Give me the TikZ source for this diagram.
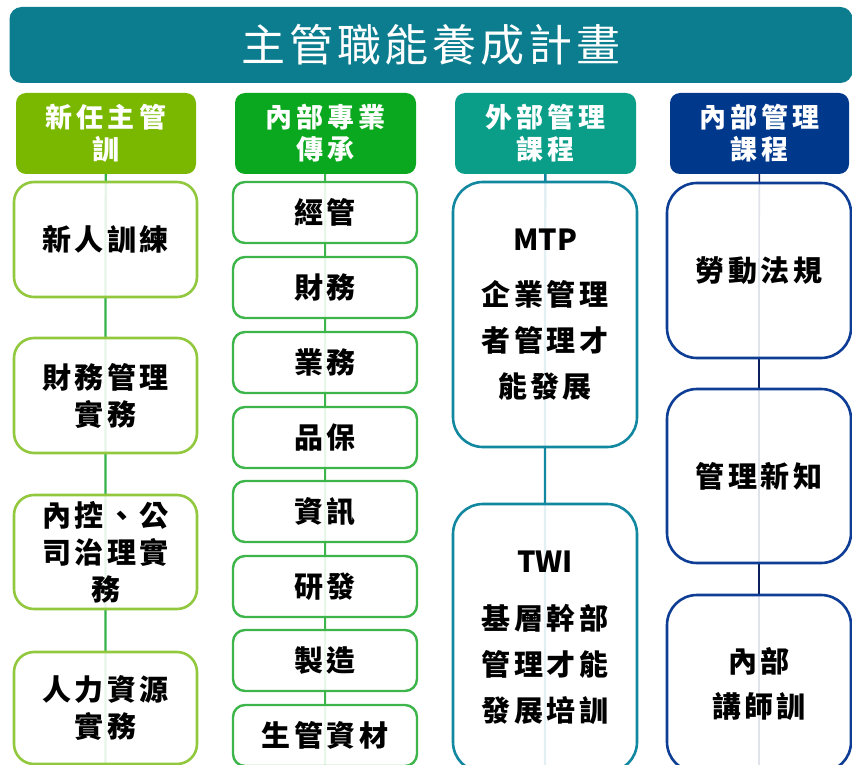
\documentclass[tikz,border=0pt]{standalone}
\usepackage{fontspec}
\setmainfont{Noto Sans CJK TC}
\newfontfamily\titlefont[LetterSpace=9]{Noto Sans CJK TC}
\newfontfamily\hdrfont[LetterSpace=15]{Noto Sans CJK TC}
\newfontfamily\bodyfont[LetterSpace=12]{Noto Sans CJK TC}
\newfontfamily\latinfont{Noto Sans CJK TC}
\usetikzlibrary{backgrounds}
\definecolor{titlec}{HTML}{0B7D8E}
\definecolor{hA}{HTML}{7AB800}
\definecolor{hB}{HTML}{0AA81E}
\definecolor{hC}{HTML}{0A9E88}
\definecolor{hD}{HTML}{00388C}
\definecolor{bA}{HTML}{92C83E}
\definecolor{lA}{HTML}{36B24A}
\definecolor{bB}{HTML}{3DB54A}
\definecolor{bC}{HTML}{1287A0}
\definecolor{bD}{HTML}{0D3D94}
\definecolor{lD}{HTML}{0B1F5C}
\begin{document}
\begin{tikzpicture}[x=1pt,y=-1pt,
  hdr/.style={fill=#1, rounded corners=10pt, minimum width=180pt, minimum height=81pt,
    inner sep=0pt, text=white, align=center, font=\hdrfont\bfseries\fontsize{27}{32}\selectfont},
  cbox/.style={fill=white, fill opacity=0.88, text opacity=1, draw=#1, line width=2.6pt,
    inner sep=0pt, align=center, text=black, minimum width=184pt,
    font=\bodyfont\bfseries\fontsize{29}{37}\selectfont},
  boxA/.style={cbox=bA, rounded corners=20pt, minimum width=183pt},
  boxB/.style={cbox=bB, rounded corners=12pt, minimum height=61pt, line width=2.4pt},
  boxC/.style={cbox=bC, rounded corners=30pt, font=\bodyfont\bfseries\fontsize{29}{46}\selectfont},
  boxD/.style={cbox=bD, rounded corners=30pt, font=\bodyfont\bfseries\fontsize{29}{45}\selectfont},
  conn/.style={draw=#1, line width=2.4pt}
]
\useasboundingbox (0,0) rectangle (852,765);
% title
\node[fill=titlec, rounded corners=12pt, minimum width=843pt, minimum height=76pt, inner sep=0pt,
  text=white, font=\titlefont\fontsize{44}{50}\selectfont] (title) at (431,45) {主管職能養成計畫};
% headers
\node[hdr=hA] (h1) at (106,133.5) {新任主管\\訓};
\node[hdr=hB, minimum width=181pt] (h2) at (325.5,133.5) {內部專業\\傳承};
\node[hdr=hC, minimum width=181pt] (h3) at (545.5,133.5) {外部管理\\課程};
\node[hdr=hD, minimum width=179pt] (h4) at (759.5,133.5) {內部管理\\課程};
% column 1
\node[boxA, minimum height=115pt] (a1) at (105.5,239.5) {新人訓練};
\node[boxA, minimum height=115pt] (a2) at (105.5,395.5) {財務管理\\實務};
\node[boxA, minimum height=114pt] (a3) at (105.5,552) {內控、公\\司治理實\\務};
\node[boxA, minimum height=112pt] (a4) at (105.5,708) {人力資源\\實務};
% column 2
\node[boxB] (b1) at (325,212.5) {經管};
\node[boxB] (b2) at (325,287.5) {財務};
\node[boxB] (b3) at (325,362.5) {業務};
\node[boxB] (b4) at (325,437.5) {品保};
\node[boxB] (b5) at (325,511.5) {資訊};
\node[boxB] (b6) at (325,586.5) {研發};
\node[boxB] (b7) at (325,660.5) {製造};
\node[boxB] (b8) at (325,735.5) {生管資材};
% column 3
\node[boxC, minimum height=265pt] (c1) at (545,314.5) {{\latinfont MTP}\\[9pt]企業管理\\者管理才\\能發展};
\node[boxC, minimum height=268pt] (c2) at (545,638) {{\latinfont TWI}\\[11pt]基層幹部\\管理才能\\發展培訓};
% column 4
\node[boxD, minimum height=175pt] (d1) at (759,270.5) {勞動法規};
\node[boxD, minimum height=174pt] (d2) at (759,476) {管理新知};
\node[boxD, minimum height=177pt] (d3) at (759,683.5) {內部\\講師訓};
% connectors
\begin{scope}[on background layer]
\draw[conn=lA] (h1.center) -- (a1.center) -- (a2.center) -- (a3.center) -- (a4.south);
\draw[conn=bB, line width=2pt] (h2.center) -- (b1.center) -- (b2.center) -- (b3.center) -- (b4.center)
  -- (b5.center) -- (b6.center) -- (b7.center) -- (b8.south);
\draw[conn=bC] (h3.center) -- (c1.center) -- (c2.south);
\draw[conn=lD, line width=1.6pt] (h4.center) -- (d1.center) -- (d2.center) -- (d3.south);
\end{scope}
\end{tikzpicture}
\end{document}
